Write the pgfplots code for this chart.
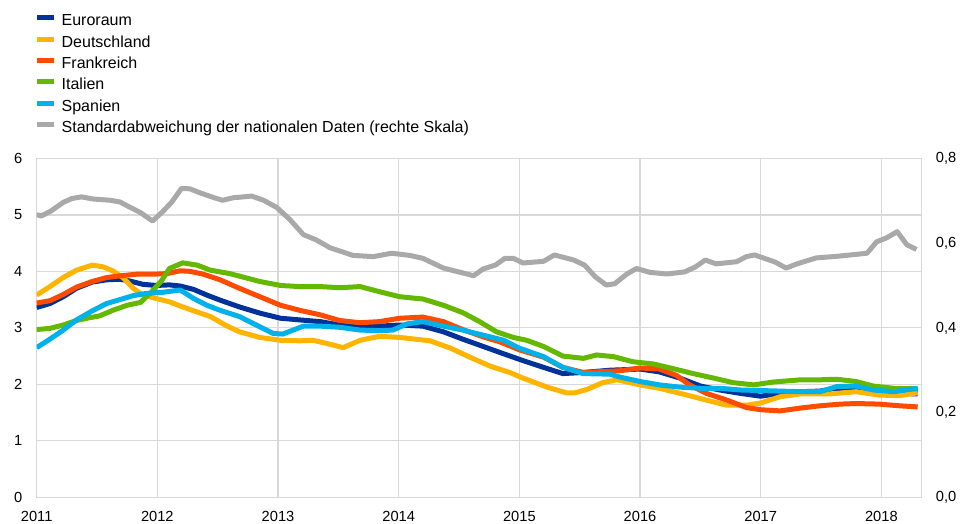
\documentclass[border=0pt]{standalone}
\usepackage{fontspec}
\setmainfont{Liberation Sans}
\usepackage{pgfplots}
\pgfplotsset{compat=1.18}

\definecolor{ecbblue}{HTML}{003299}
\definecolor{ecbyellow}{HTML}{FFB400}
\definecolor{ecborange}{HTML}{FF4B00}
\definecolor{ecbgreen}{HTML}{65B800}
\definecolor{ecbcyan}{HTML}{00B1EA}
\definecolor{ecbgrey}{HTML}{A9A9A9}
\definecolor{gridgrey}{HTML}{D9D9D9}

\pgfplotsset{
  base/.style={
    width=663.75pt, height=254.25pt, scale only axis,
    xmin=2011, xmax=2018.333,
    major tick length=0pt,
    tick label style={font=\fontsize{11}{13}\selectfont, inner sep=0pt},
    /pgf/number format/assume math mode=true,
    axis line style={gridgrey, line width=1pt},
  },
  serie/.style={line width=3.75pt, line join=round, no markers},
}

\begin{document}
\begin{tikzpicture}
\begin{axis}[base,
  ymin=0, ymax=6, ytick={0,1,...,6},
  xtick={2011,...,2018},
  xticklabel style={/pgf/number format/1000 sep={}, yshift=-10pt},
  yticklabel style={xshift=-10.5pt},
  grid=major, grid style={gridgrey, line width=1pt},
  legend cell align=left,
  legend style={at={(rel axis cs:0,1)}, anchor=north west, yshift=110.5pt, xshift=-1.5pt,
    draw=none, fill=none, inner sep=0pt, outer sep=0pt,
    font=\fontsize{12}{14}\selectfont, row sep=0pt,
    nodes={inner sep=0pt, text height=11pt, text depth=5pt},
    /tikz/every odd column/.append style={column sep=3.75pt}},
  legend image code/.code={\draw[#1, line width=3.75pt] (0pt,0.3em) -- (12.75pt,0.3em);},
]
% Euroraum
\addplot[serie, ecbblue] coordinates {
(2011.00,3.36) (2011.11,3.43) (2011.22,3.55) (2011.33,3.70) (2011.46,3.81)
(2011.58,3.85) (2011.69,3.86) (2011.77,3.83) (2011.88,3.77) (2011.99,3.75)
(2012.10,3.76) (2012.19,3.74) (2012.30,3.68) (2012.41,3.58) (2012.52,3.49)
(2012.68,3.37) (2012.85,3.26) (2013.02,3.17) (2013.18,3.14) (2013.35,3.11)
(2013.51,3.05) (2013.68,3.02) (2013.84,3.03) (2014.01,3.05) (2014.20,3.03)
(2014.37,2.93) (2014.53,2.80) (2014.70,2.67) (2014.87,2.54) (2015.03,2.42)
(2015.20,2.30) (2015.36,2.19) (2015.53,2.21) (2015.75,2.25) (2016.00,2.27)
(2016.16,2.22) (2016.33,2.11) (2016.50,1.97) (2016.66,1.90) (2016.83,1.84)
(2017.00,1.79) (2017.16,1.84) (2017.33,1.87) (2017.49,1.88) (2017.63,1.93)
(2017.79,1.91) (2017.98,1.86) (2018.15,1.84) (2018.30,1.83)
};
\addlegendentry{Euroraum}
% Deutschland
\addplot[serie, ecbyellow] coordinates {
(2011.00,3.58) (2011.11,3.73) (2011.22,3.89) (2011.33,4.02) (2011.46,4.11)
(2011.55,4.08) (2011.63,4.01) (2011.72,3.88) (2011.80,3.70) (2011.88,3.58)
(2011.99,3.52) (2012.10,3.46) (2012.21,3.37) (2012.33,3.28) (2012.44,3.20)
(2012.57,3.04) (2012.68,2.93) (2012.85,2.83) (2013.02,2.78) (2013.18,2.77)
(2013.29,2.78) (2013.43,2.71) (2013.54,2.65) (2013.68,2.78) (2013.84,2.85)
(2014.01,2.83) (2014.26,2.77) (2014.43,2.64) (2014.59,2.48) (2014.76,2.32)
(2014.92,2.21) (2015.03,2.11) (2015.23,1.95) (2015.39,1.85) (2015.46,1.85)
(2015.56,1.91) (2015.69,2.03) (2015.81,2.08) (2016.00,1.99) (2016.16,1.93)
(2016.39,1.81) (2016.55,1.72) (2016.72,1.63) (2016.88,1.63) (2017.00,1.67)
(2017.16,1.78) (2017.33,1.83) (2017.57,1.83) (2017.79,1.87) (2017.98,1.81)
(2018.15,1.80) (2018.30,1.85)
};
\addlegendentry{Deutschland}
% Frankreich
\addplot[serie, ecborange] coordinates {
(2011.00,3.44) (2011.11,3.48) (2011.22,3.59) (2011.33,3.72) (2011.46,3.82)
(2011.58,3.89) (2011.69,3.92) (2011.83,3.95) (2011.97,3.95) (2012.08,3.96)
(2012.19,4.01) (2012.27,4.00) (2012.38,3.95) (2012.52,3.85) (2012.68,3.70)
(2012.85,3.55) (2013.02,3.40) (2013.18,3.31) (2013.35,3.23) (2013.51,3.13)
(2013.68,3.09) (2013.84,3.11) (2014.01,3.17) (2014.20,3.19) (2014.37,3.11)
(2014.53,2.97) (2014.70,2.84) (2014.84,2.75) (2015.00,2.61) (2015.20,2.48)
(2015.36,2.30) (2015.53,2.21) (2015.83,2.24) (2016.00,2.29) (2016.16,2.27)
(2016.30,2.16) (2016.41,1.99) (2016.55,1.84) (2016.72,1.72) (2016.88,1.59)
(2017.00,1.55) (2017.16,1.53) (2017.33,1.58) (2017.49,1.62) (2017.66,1.65)
(2017.79,1.66) (2017.98,1.65) (2018.15,1.62) (2018.30,1.60)
};
\addlegendentry{Frankreich}
% Italien
\addplot[serie, ecbgreen] coordinates {
(2011.00,2.97) (2011.11,2.99) (2011.22,3.05) (2011.33,3.13) (2011.44,3.18)
(2011.52,3.21) (2011.63,3.31) (2011.75,3.40) (2011.86,3.45) (2011.94,3.61)
(2012.03,3.82) (2012.10,4.05) (2012.21,4.15) (2012.33,4.11) (2012.44,4.02)
(2012.60,3.96) (2012.85,3.82) (2013.02,3.75) (2013.18,3.73) (2013.35,3.73)
(2013.51,3.71) (2013.68,3.73) (2013.84,3.64) (2014.01,3.55) (2014.20,3.51)
(2014.37,3.40) (2014.53,3.27) (2014.67,3.11) (2014.81,2.93) (2014.95,2.83)
(2015.06,2.78) (2015.20,2.67) (2015.36,2.50) (2015.53,2.46) (2015.64,2.52)
(2015.78,2.49) (2015.94,2.40) (2016.11,2.36) (2016.27,2.28) (2016.44,2.19)
(2016.61,2.11) (2016.77,2.03) (2016.94,1.99) (2017.10,2.04) (2017.33,2.08)
(2017.49,2.08) (2017.63,2.09) (2017.79,2.05) (2017.93,1.97) (2018.10,1.93)
(2018.30,1.92)
};
\addlegendentry{Italien}
% Spanien
\addplot[serie, ecbcyan] coordinates {
(2011.00,2.65) (2011.11,2.80) (2011.22,2.96) (2011.33,3.14) (2011.46,3.30)
(2011.58,3.43) (2011.69,3.50) (2011.80,3.57) (2011.91,3.61) (2012.05,3.63)
(2012.19,3.67) (2012.30,3.52) (2012.41,3.40) (2012.52,3.31) (2012.68,3.20)
(2012.82,3.05) (2012.96,2.90) (2013.04,2.89) (2013.21,3.03) (2013.35,3.03)
(2013.51,3.01) (2013.68,2.96) (2013.84,2.95) (2013.95,2.96) (2014.07,3.07)
(2014.20,3.11) (2014.37,3.03) (2014.53,2.96) (2014.70,2.87) (2014.87,2.78)
(2015.00,2.64) (2015.20,2.49) (2015.36,2.30) (2015.53,2.19) (2015.75,2.18)
(2015.83,2.13) (2016.00,2.05) (2016.16,1.99) (2016.33,1.95) (2016.50,1.93)
(2016.66,1.93) (2016.83,1.90) (2017.00,1.89) (2017.33,1.87) (2017.49,1.87)
(2017.63,1.96) (2017.79,1.97) (2017.93,1.90) (2018.10,1.87) (2018.30,1.93)
};
\addlegendentry{Spanien}
\addlegendimage{serie, ecbgrey}
\addlegendentry{Standardabweichung der nationalen Daten (rechte Skala)}
\coordinate (sw) at (rel axis cs:0,0);
\end{axis}
\begin{axis}[base,
  axis x line=none, axis y line*=right,
  ymin=0, ymax=0.8, ytick={0,0.2,...,0.8},
  yticklabel style={/pgf/number format/.cd, fixed, fixed zerofill, precision=1, use comma, /tikz/.cd, xshift=10.5pt},
]
% Standardabweichung (rechte Skala)
\addplot[serie, ecbgrey] coordinates {
(2011.00,0.667) (2011.04,0.664) (2011.12,0.676) (2011.22,0.696) (2011.29,0.705)
(2011.37,0.709) (2011.47,0.704) (2011.61,0.701) (2011.69,0.697) (2011.77,0.685)
(2011.86,0.672) (2011.96,0.652) (2012.04,0.673) (2012.12,0.697) (2012.20,0.729)
(2012.27,0.728) (2012.35,0.719) (2012.46,0.708) (2012.54,0.701) (2012.63,0.707)
(2012.71,0.709) (2012.78,0.711) (2012.88,0.701) (2012.99,0.684) (2013.10,0.655)
(2013.21,0.620) (2013.32,0.607) (2013.43,0.589) (2013.62,0.571) (2013.79,0.568)
(2013.94,0.576) (2014.09,0.571) (2014.20,0.564) (2014.37,0.541) (2014.51,0.531)
(2014.62,0.523) (2014.70,0.539) (2014.80,0.548) (2014.88,0.564) (2014.95,0.564)
(2015.03,0.553) (2015.20,0.557) (2015.29,0.572) (2015.45,0.560) (2015.54,0.548)
(2015.63,0.520) (2015.72,0.501) (2015.79,0.504) (2015.89,0.527) (2015.97,0.540)
(2016.08,0.531) (2016.22,0.527) (2016.37,0.532) (2016.46,0.544) (2016.54,0.560)
(2016.63,0.551) (2016.80,0.556) (2016.88,0.568) (2016.95,0.572) (2017.12,0.555)
(2017.21,0.541) (2017.30,0.551) (2017.46,0.565) (2017.64,0.569) (2017.88,0.576)
(2017.96,0.603) (2018.04,0.612) (2018.13,0.627) (2018.21,0.596) (2018.29,0.585)
};
\end{axis}
\pgfresetboundingbox
\path (sw) ++(-27.5pt,-20pt) rectangle ++(720.75pt,393pt);
\end{tikzpicture}
\end{document}
